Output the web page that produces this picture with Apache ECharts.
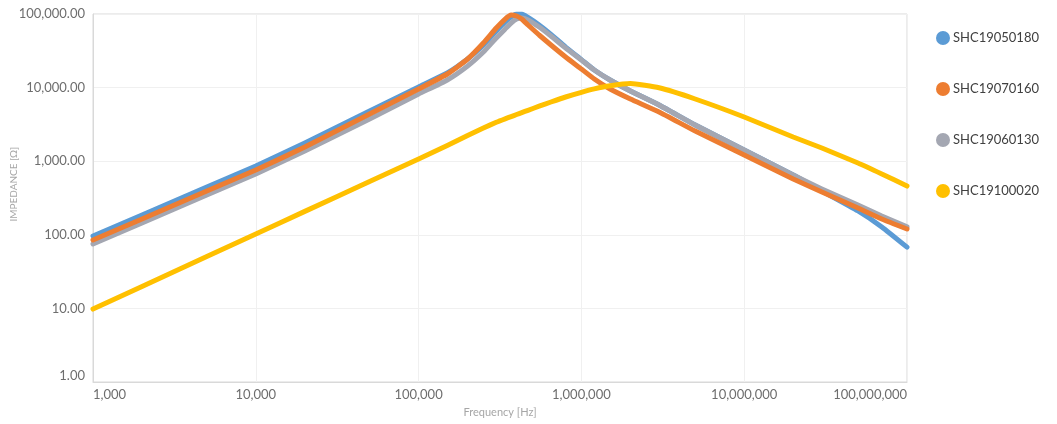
<!DOCTYPE html>
<html>
<head>
<meta charset="utf-8">
<script src="https://cdn.jsdelivr.net/npm/echarts@6/dist/echarts.min.js"></script>
<style>
html,body{margin:0;padding:0;background:#fff;}
#chart{width:1057px;height:424px;}
</style>
</head>
<body>
<div id="chart"></div>
<script>
// ---- data ----
const seriesNames = ['SHC19050180', 'SHC19070160', 'SHC19060130', 'SHC19100020'];

// frequency in Hz (shared by all four series)
const frequency = [1e3, 2e3, 5e3, 1e4, 2e4, 5e4, 1e5, 1.5e5, 2e5, 2.5e5, 3e5, 3.4e5, 3.7e5, 4e5, 4.3e5, 4.7e5, 5.5e5, 6.5e5, 8e5, 1e6, 1.2e6, 1.5e6, 2e6, 3e6, 5e6, 1e7, 2e7, 3e7, 5e7, 7e7, 1e8];

// impedance in ohms
const zSHC19050180 = [96, 186, 446, 861, 1767, 4810, 10190, 15790, 24460, 37920, 58750, 77870, 91050, 100000, 100000, 90000, 71000, 53000, 35500, 24000, 17340, 12690, 8990, 5801, 3103, 1420, 649, 394, 211, 128, 68];
const zSHC19070160 = [85, 164, 394, 759, 1559, 4378, 9573, 15300, 24460, 40360, 64520, 85500, 96900, 93900, 85500, 70880, 51840, 37920, 26050, 17890, 13090, 9573, 7000, 4662, 2572, 1214, 573, 381, 231, 164, 120];
const zSHC19060130 = [75, 145, 347, 670, 1376, 3745, 8185, 12690, 19660, 30460, 47190, 62550, 75460, 85500, 88250, 82880, 66590, 50240, 34510, 23710, 17340, 12690, 8990, 5801, 3103, 1420, 649, 419, 254, 180, 128];
const zSHC19100020 = [9.8, 19.9, 50.6, 102.5, 208, 530, 1071, 1634, 2235, 2826, 3377, 3768, 4036, 4310, 4575, 4915, 5589, 6373, 7453, 8632, 9601, 10580, 11330, 9938, 7000, 3987, 2132, 1511, 945, 670, 460];

const xTickValues = [1e3, 1e4, 1e5, 1e6, 1e7, 1e8];
const yTickValues = [1, 10, 100, 1000, 10000, 100000];

const colors = ['#5b9bd5', '#ed7d31', '#a4a7b2', '#ffc000'];

// ---- chart ----
function pairs(fs, zs) { return fs.map((f, i) => [f, zs[i]]); }
function fmtInt(v) { return Math.round(v).toLocaleString('en-US'); }
function fmt2(v) { return Math.round(v).toLocaleString('en-US') + '.00'; }

const dataSets = [
  pairs(frequency, zSHC19050180),
  pairs(frequency, zSHC19070160),
  pairs(frequency, zSHC19060130),
  pairs(frequency, zSHC19100020)
];
const zOrder = [1, 3, 2, 4];

const font = 'Lato, "Open Sans", sans-serif';
const chart = echarts.init(document.getElementById('chart'), null, {renderer: 'canvas'});
chart.setOption({
  animation: false,
  backgroundColor: '#ffffff',
  color: colors,
  textStyle: {fontFamily: font},
  grid: {left: 93, right: 150, top: 14, bottom: 42, show: true, borderColor: '#d9d9d9', borderWidth: 1, containLabel: false},
  legend: {
    orient: 'vertical', left: 931, top: 26,
    icon: 'circle', itemWidth: 14, itemHeight: 14, itemGap: 37,
    data: seriesNames,
    textStyle: {fontFamily: font, fontSize: 13, color: '#404040', padding: [0, 0, 0, -2]}
  },
  xAxis: {
    type: 'log', logBase: 10, min: xTickValues[0], max: xTickValues[xTickValues.length - 1],
    name: 'Frequency [Hz]', nameLocation: 'middle', nameGap: 25,
    nameTextStyle: {fontFamily: font, fontSize: 11, color: '#a6a6a6'},
    axisLine: {show: true, lineStyle: {color: '#d9d9d9'}},
    axisTick: {show: false},
    axisLabel: {fontFamily: font, fontSize: 13, color: '#6e6e6e', margin: 6, formatter: fmtInt, alignMinLabel: 'left', alignMaxLabel: 'right', showMinLabel: true, showMaxLabel: true},
    splitLine: {show: true, lineStyle: {color: '#f0f0f0'}}
  },
  yAxis: {
    type: 'log', logBase: 10, min: yTickValues[0], max: yTickValues[yTickValues.length - 1],
    axisLine: {show: true, lineStyle: {color: '#d9d9d9'}},
    axisTick: {show: false},
    axisLabel: {fontFamily: font, fontSize: 13, color: '#6e6e6e', margin: 8, formatter: fmt2, verticalAlignMinLabel: 'bottom', showMinLabel: true, showMaxLabel: true},
    splitLine: {show: true, lineStyle: {color: '#f0f0f0'}}
  },
  graphic: [{
    type: 'text', left: 9, top: 147, rotation: Math.PI / 2,
    style: {text: 'IMPEDANCE [Ω]', fontFamily: font, fontSize: 10, fill: '#a6a6a6'}
  }],
  series: seriesNames.map((n, i) => ({
    name: n, type: 'line', data: dataSets[i], z: zOrder[i],
    showSymbol: false, symbol: 'circle', smooth: 0.15,
    lineStyle: {width: 5, color: colors[i], join: 'round', cap: 'round'},
    itemStyle: {color: colors[i]}
  }))
});
</script>
</body>
</html>
